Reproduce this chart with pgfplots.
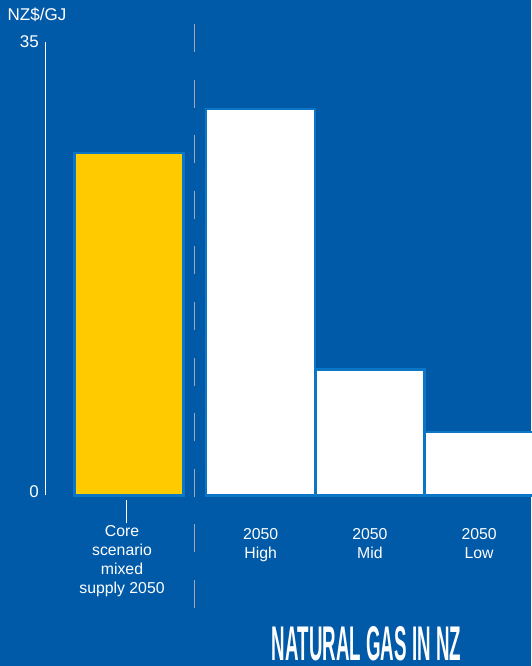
\documentclass[border=0pt]{standalone}
\usepackage{fontspec}
\setmainfont{Liberation Sans}
\usepackage{graphicx}
\usepackage{pgfplots}
\pgfplotsset{compat=1.18}

\definecolor{bgblue}{HTML}{005AA8}
\definecolor{edgeblue}{HTML}{0B76C6}
\definecolor{gold}{HTML}{FFCB00}
\definecolor{dashgray}{HTML}{A0A6B2}

\begin{document}
\begin{tikzpicture}
\fill[bgblue] (0,0) rectangle (531pt,666pt);
\begin{axis}[
  at={(45pt,170.5pt)}, anchor=south west,
  scale only axis, width=486pt, height=453.8pt,
  xmin=0, xmax=486, ymin=0, ymax=35,
  clip=false,
  axis lines*=left,
  x axis line style={draw=none},
  y axis line style={white, line width=1pt, -},
  major tick length=0pt,
  tick style={draw=none},
  ytick={35},
  extra y ticks={0},
  extra y tick style={yticklabel style={yshift=3.5pt}},
  xtick={215.7,324.9,434.1},
  xticklabels={{2050\\High},{2050\\Mid},{2050\\Low}},
  extra x ticks={81.5},
  extra x tick labels={{Core\\scenario\\mixed\\supply 2050}},
  extra x tick style={xticklabel style={xshift=-4.5pt, yshift=3pt}},
  /pgf/number format/assume math mode=true,
  xticklabel style={white, font=\fontsize{15.8}{19.2}\selectfont, align=center,
    anchor=north, inner sep=0pt, yshift=-32.5pt},
  yticklabel style={white, font=\fontsize{17}{20}\selectfont,
    anchor=east, inner sep=0pt, xshift=-6pt},
]
% core scenario
\addplot[ybar, bar width=109, bar shift=0pt, fill=gold, draw=edgeblue, line width=2.5pt]
  coordinates {(84,26.4)};
% 2050 price cases
\addplot[ybar, bar width=109, bar shift=0pt, fill=white, draw=edgeblue, line width=2.5pt]
  coordinates {(215.7,29.8) (324.9,9.7) (434.1,4.9)};

% separator between core scenario and price cases
\draw[dashgray, line width=1pt, dash pattern=on 28pt off 27.6pt]
  (axis cs:149,36.36) -- (axis cs:149,-8.68);
% pointer to the core scenario label
\draw[white, line width=1pt] (axis cs:81.5,-0.35) -- (axis cs:81.5,-2.12);

\node[white, font=\fontsize{17}{20}\selectfont] at (axis cs:-8,37.1) {NZ\$/GJ};
\node[white, inner sep=0pt] at (axis cs:321.5,-11.45)
  {\resizebox{189pt}{34pt}{\bfseries NATURAL GAS IN NZ}};
\end{axis}
\pgfresetboundingbox
\useasboundingbox (0,0) rectangle (531pt,666pt);
\end{tikzpicture}
\end{document}
